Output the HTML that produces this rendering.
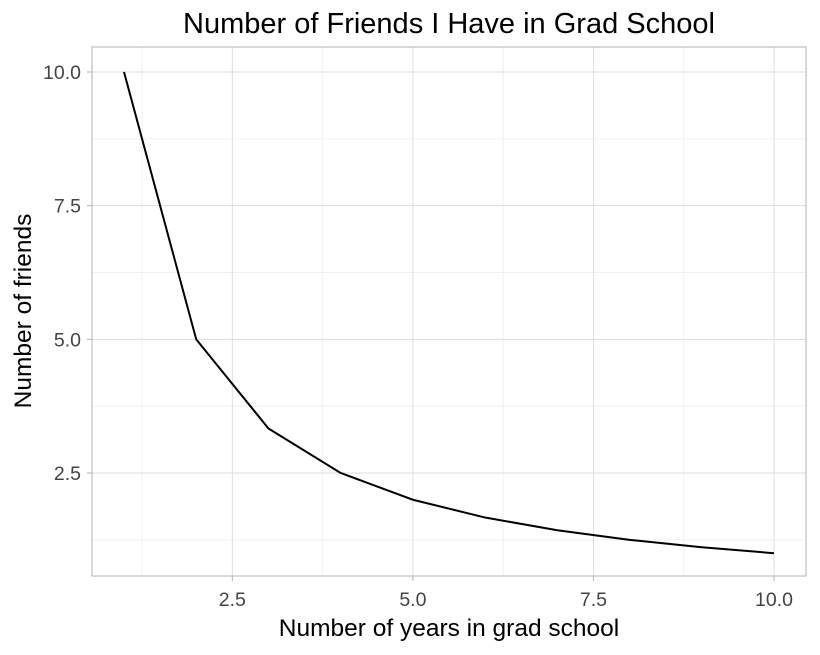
<!DOCTYPE html>
<html><head><meta charset="utf-8">
<style>
body{margin:0;background:#fff;font-family:"Liberation Sans",Arial,sans-serif;}
svg text{font-family:"Liberation Sans",Arial,sans-serif;}
</style></head>
<body>
<svg width="820" height="650" xmlns="http://www.w3.org/2000/svg">
<g id="grid"></g>
<rect x="92" y="47" width="714" height="529" fill="none" stroke="#b3b3b3" stroke-width="1"/>
<path id="line" fill="none" stroke="#000" stroke-width="2"/>
<g id="xt"></g>
<g id="yt"></g>
<text x="449" y="33" font-size="29" text-anchor="middle" fill="#000">Number of Friends I Have in Grad School</text>
<text x="449" y="636" font-size="24.5" text-anchor="middle" fill="#000">Number of years in grad school</text>
<text transform="translate(31,311) rotate(-90)" font-size="24.5" text-anchor="middle" fill="#000">Number of friends</text>
</svg>
<script>
const years = [1,2,3,4,5,6,7,8,9,10];
const friends = [10,5,3.333,2.5,2,1.667,1.429,1.25,1.111,1];
const xTicks = [2.5,5.0,7.5,10.0];
const yTicks = [2.5,5.0,7.5,10.0];
const xMinor = [1.25,3.75,6.25,8.75];
const yMinor = [1.25,3.75,6.25,8.75];
const X = v => 124 + (v-1)*(650/9);
const Y = v => 72 + (10-v)*(401/7.5);
const ns="http://www.w3.org/2000/svg";
const grid=document.getElementById('grid');
function ln(x1,y1,x2,y2,c,w,name){const l=document.createElementNS(ns,'line');
l.setAttribute('x1',x1);l.setAttribute('y1',y1);l.setAttribute('x2',x2);l.setAttribute('y2',y2);
l.setAttribute('stroke',c);l.setAttribute('stroke-width',w);


grid.appendChild(l);}
xMinor.forEach(v=>ln(X(v),47,X(v),576,'#f0f0f0',1,'x-minor-gridline'));
yMinor.forEach(v=>ln(92,Y(v),806,Y(v),'#f0f0f0',1,'y-minor-gridline'));
xTicks.forEach(v=>ln(X(v),47,X(v),576,'#dedede',1,'x-major-gridline'));
yTicks.forEach(v=>ln(92,Y(v),806,Y(v),'#dedede',1,'y-major-gridline'));
const xt=document.getElementById('xt'), yt=document.getElementById('yt');
xTicks.forEach(v=>{const t=document.createElementNS(ns,'text');
t.setAttribute('x',X(v));t.setAttribute('y',606);t.setAttribute('font-size','19.5');
t.setAttribute('text-anchor','middle');t.setAttribute('fill','#444');t.textContent=v.toFixed(1);


xt.appendChild(t);
const k=document.createElementNS(ns,'line');k.setAttribute('x1',X(v));k.setAttribute('x2',X(v));k.setAttribute('y1',576);k.setAttribute('y2',581);k.setAttribute('stroke','#b3b3b3');


xt.appendChild(k);});
yTicks.forEach(v=>{const t=document.createElementNS(ns,'text');
t.setAttribute('x',81);t.setAttribute('y',Y(v)+7);t.setAttribute('font-size','19.5');
t.setAttribute('text-anchor','end');t.setAttribute('fill','#444');t.textContent=v.toFixed(1);


yt.appendChild(t);
const k=document.createElementNS(ns,'line');k.setAttribute('x1',87);k.setAttribute('x2',92);k.setAttribute('y1',Y(v));k.setAttribute('y2',Y(v));k.setAttribute('stroke','#b3b3b3');


yt.appendChild(k);});
document.getElementById('line').setAttribute('d',years.map((x,i)=>(i?'L':'M')+X(x)+','+Y(friends[i])).join(' '));
</script>
</body></html>
